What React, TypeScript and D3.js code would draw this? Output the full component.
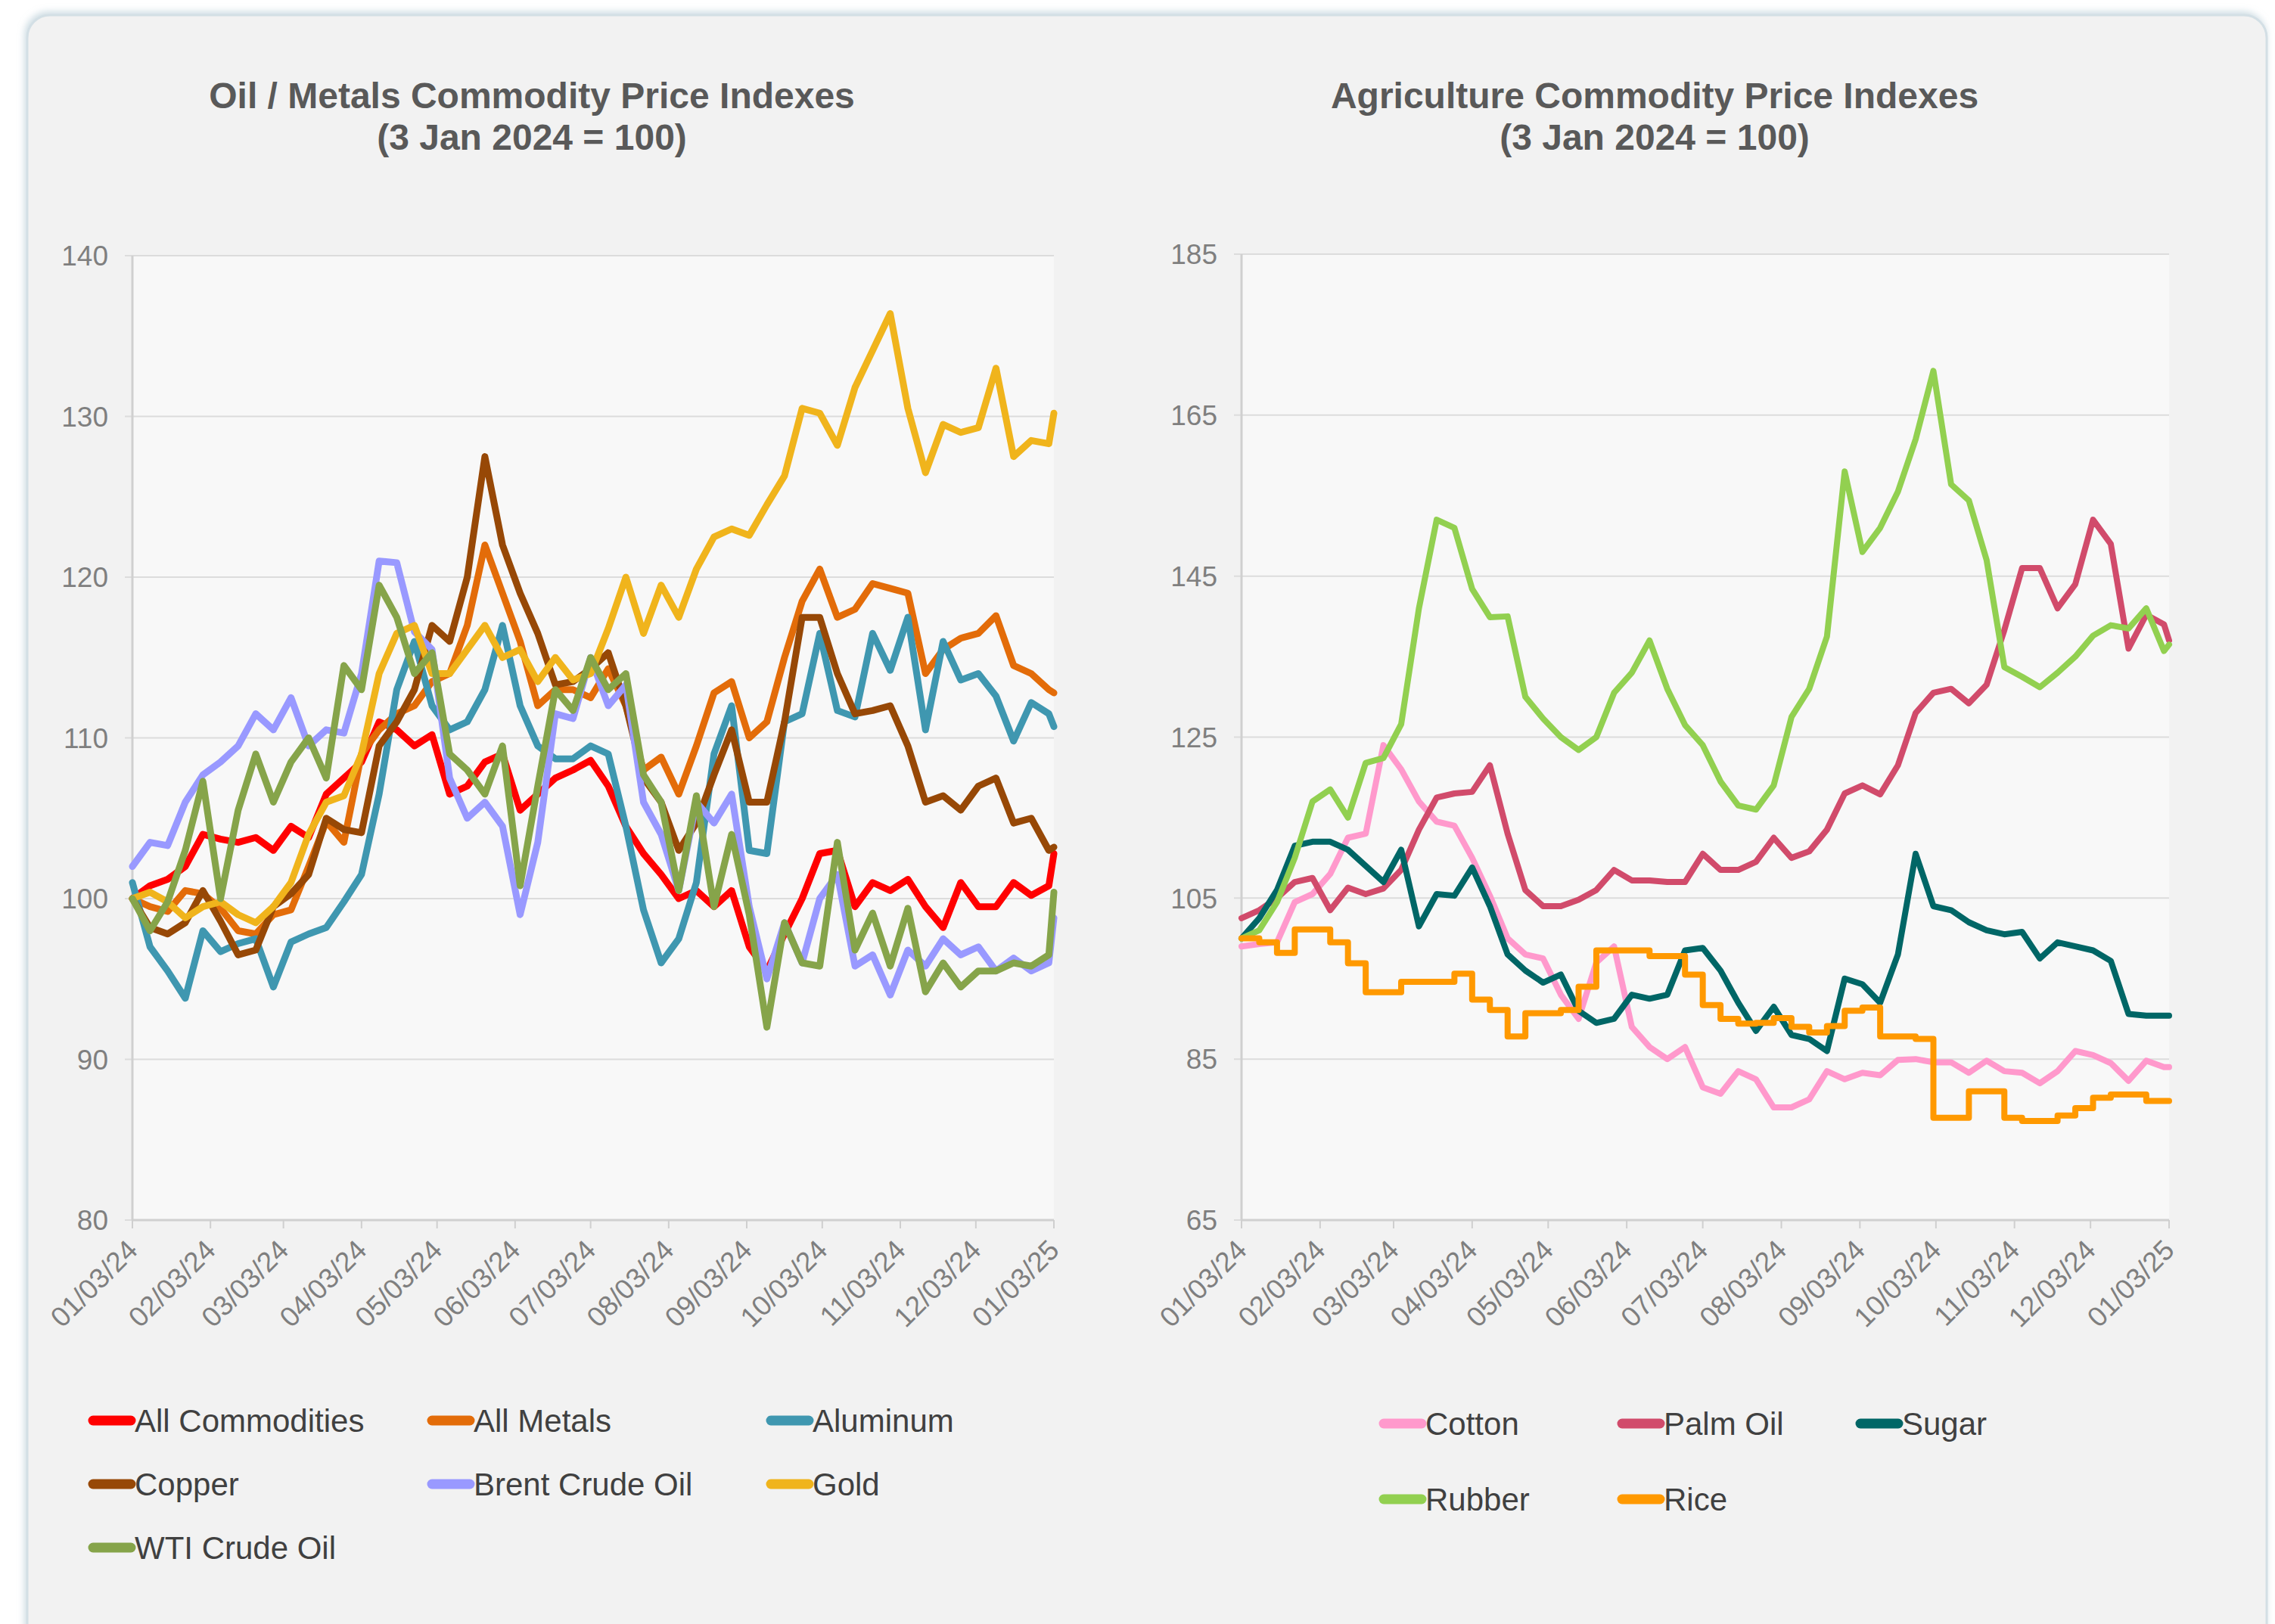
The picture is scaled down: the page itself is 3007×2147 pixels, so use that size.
import React from 'react';
import * as d3 from 'd3';

// weekly samples, Jan 3 2024 -> Jan 3 2025
const weekDates = [
  '2024-01-03', '2024-01-10', '2024-01-17', '2024-01-24', '2024-01-31',
  '2024-02-07', '2024-02-14', '2024-02-21', '2024-02-28',
  '2024-03-06', '2024-03-13', '2024-03-20', '2024-03-27',
  '2024-04-03', '2024-04-10', '2024-04-17', '2024-04-24',
  '2024-05-01', '2024-05-08', '2024-05-15', '2024-05-22', '2024-05-29',
  '2024-06-05', '2024-06-12', '2024-06-19', '2024-06-26',
  '2024-07-03', '2024-07-10', '2024-07-17', '2024-07-24', '2024-07-31',
  '2024-08-07', '2024-08-14', '2024-08-21', '2024-08-28',
  '2024-09-04', '2024-09-11', '2024-09-18', '2024-09-25',
  '2024-10-02', '2024-10-09', '2024-10-16', '2024-10-23', '2024-10-30',
  '2024-11-06', '2024-11-13', '2024-11-20', '2024-11-27',
  '2024-12-04', '2024-12-11', '2024-12-18', '2024-12-25',
  '2025-01-01', '2025-01-03',
];

const monthTicks = [
  '2024-01-03', '2024-02-03', '2024-03-03', '2024-04-03', '2024-05-03', '2024-06-03', '2024-07-03',
  '2024-08-03', '2024-09-03', '2024-10-03', '2024-11-03', '2024-12-03', '2025-01-03',
];

// Oil / metals
const allCommodities = [
  100, 100.8, 101.2, 102, 104, 103.7, 103.5, 103.8, 103, 104.5,
  103.8, 106.5, 107.5, 108.5, 111, 110.5, 109.5, 110.2, 106.5,
  107, 108.5, 109, 105.5, 106.5, 107.5, 108, 108.6, 107, 104.5,
  102.8, 101.5, 100, 100.5, 99.5, 100.5, 97,
  95.5, 97.8, 100, 102.8, 103, 99.5, 101, 100.5, 101.2, 99.5,
  98.2, 101, 99.5, 99.5, 101, 100.2, 100.8, 102.8,
];
const allMetals = [
  100, 99.5, 99.2, 100.5, 100.3, 99.4, 98, 97.8, 99, 99.3, 102, 104.8, 103.5, 109, 110.5, 111.5, 112, 113.5, 114,
  117, 122, 119, 116, 112, 113, 113, 112.5, 114.3, 112, 108, 108.8, 106.5, 109.5, 112.8, 113.5, 110,
  111, 115, 118.5, 120.5, 117.5, 118, 119.6, 119.3, 119, 114, 115.5, 116.2, 116.5, 117.6, 114.5, 114, 113,
  112.8,
];
const aluminum = [
  101, 97, 95.5, 93.8, 98, 96.7, 97.2, 97.5, 94.5, 97.3, 97.8, 98.2, 99.8, 101.5, 106.5, 113, 116, 112, 110.5,
  111, 113, 117, 112, 109.5, 108.7, 108.7, 109.5, 109, 104.5, 99.3, 96, 97.5, 101, 109, 112, 103,
  102.8, 111, 111.5, 116.5, 111.7, 111.3, 116.5, 114.2, 117.5, 110.5, 116, 113.6, 114, 112.6, 109.8, 112.2, 111.5,
  110.7,
];
const copper = [
  100, 98.2, 97.8, 98.5, 100.5, 98.6, 96.5, 96.8, 99.5, 100.3, 101.5, 105, 104.3, 104.1, 109.5, 111, 113, 117, 116,
  120, 127.5, 122, 119, 116.5, 113.3, 113.5, 114.3, 115.3, 112, 107.5, 106, 103, 104.7, 107.7, 110.5, 106,
  106, 111, 117.5, 117.5, 114, 111.5, 111.7, 112, 109.5, 106, 106.4, 105.5, 107, 107.5, 104.7, 105, 103,
  103.2,
];
const brentCrude = [
  102, 103.5, 103.3, 106, 107.7, 108.5, 109.5, 111.5, 110.5, 112.5, 109.5, 110.5, 110.3, 114, 121, 120.9, 116.6, 115.5, 107.5,
  105, 106, 104.5, 99, 103.5, 111.5, 111.2, 115, 112, 113.3, 106, 104, 100.5, 106, 104.7, 106.5, 99.5,
  95, 98.5, 96, 100, 101.5, 95.8, 96.5, 94, 96.8, 95.8, 97.5, 96.5, 97, 95.5, 96.3, 95.5, 96,
  98.8,
];
const gold = [
  100, 100.4, 99.8, 98.8, 99.5, 99.8, 99, 98.5, 99.5, 101, 104, 106, 106.4, 109, 114, 116.5, 117, 114, 114,
  115.5, 117, 115, 115.5, 113.5, 115, 113.6, 114, 116.8, 120, 116.5, 119.5, 117.5, 120.5, 122.5, 123, 122.6,
  124.5, 126.3, 130.5, 130.2, 128.2, 131.8, 134.1, 136.4, 130.5, 126.5, 129.5, 129, 129.3, 133, 127.5, 128.5, 128.3,
  130.2,
];
const wtiCrude = [
  100, 98, 99.8, 103, 107.3, 100, 105.5, 109, 106, 108.5, 110, 107.5, 114.5, 113, 119.5, 117.5, 114, 115.3, 109,
  108, 106.5, 109.5, 100.8, 107, 113, 111.7, 115, 113, 114, 107.7, 106, 100.5, 106.4, 99.5, 104, 99,
  92, 98.5, 96, 95.8, 103.5, 96.8, 99.1, 95.8, 99.4, 94.2, 96, 94.5, 95.5, 95.5, 96, 95.8, 96.5,
  100.4,
];

// Agriculture
const cotton = [
  99, 99.3, 99.5, 104.5, 105.5, 108, 112.5, 113, 124, 121, 117, 114.5, 114, 110, 105.3, 100, 98, 97.5, 93,
  90, 97, 99, 89, 86.5, 85, 86.5, 81.5, 80.7, 83.5, 82.5, 79, 79, 80, 83.5, 82.5, 83.3,
  83, 84.9, 85, 84.6, 84.6, 83.3, 84.8, 83.5, 83.3, 82, 83.5, 86, 85.5, 84.5, 82.3, 84.8, 84,
  84,
];
const palmOil = [
  102.5, 103.5, 105, 107, 107.5, 103.5, 106.3, 105.5, 106.2, 108.5, 113.5, 117.5, 118, 118.2, 121.5, 113, 106, 104, 104,
  104.8, 106, 108.5, 107.2, 107.2, 107, 107, 110.5, 108.5, 108.5, 109.5, 112.5, 110, 110.8, 113.5, 118, 119,
  117.9, 121.5, 128, 130.5, 131, 129.2, 131.5, 138.3, 146, 146, 141, 144, 152, 149, 136, 140.2, 139,
  137,
];
const sugar = [
  100, 102.5, 106, 111.5, 112, 112, 111, 109, 107, 111, 101.5, 105.5, 105.3, 108.8, 104, 98, 96, 94.5, 95.5,
  91, 89.5, 90, 93, 92.5, 93, 98.5, 98.8, 96, 92, 88.5, 91.5, 88, 87.5, 86, 95, 94.3,
  92, 98, 110.5, 104, 103.5, 102, 101, 100.5, 100.8, 97.5, 99.5, 99, 98.5, 97.2, 90.6, 90.4, 90.4,
  90.4,
];
const rubber = [
  100, 101, 104.5, 110, 117, 118.5, 115, 121.8, 122.4, 126.6, 141, 152, 151, 143.4, 139.9, 140, 130, 127.3, 125,
  123.4, 125, 130.5, 133, 137, 131, 126.5, 124, 119.5, 116.5, 116, 119, 127.5, 131, 137.5, 158, 148,
  151, 155.5, 162, 170.5, 156.4, 154.4, 147, 133.7, 132.5, 131.2, 133, 135, 137.6, 138.9, 138.5, 141, 135.7,
  136.5,
];
const rice = [
  100, 99.5, 98.2, 101.1, 101.1, 99.5, 96.9, 93.3, 93.3, 94.6, 94.6, 94.6, 95.6, 92.4, 91.1, 87.8, 90.7, 90.7, 91.1,
  94, 98.5, 98.5, 98.5, 97.8, 97.8, 95.5, 91.7, 90, 89.4, 89.5, 90.1, 89, 88.3, 89.1, 91, 91.4,
  87.8, 87.8, 87.5, 77.7, 77.7, 81, 81, 77.7, 77.3, 77.3, 78, 78.9, 80.2, 80.6, 80.6, 79.8, 79.8,
  79.8,
];

const leftYTicks = [80, 90, 100, 110, 120, 130, 140];
const rightYTicks = [65, 85, 105, 125, 145, 165, 185];

const parseDate = d3.utcParse('%Y-%m-%d');
const fmtDate = d3.utcFormat('%m/%d/%y');
const dates = weekDates.map(d => parseDate(d) as Date);
const ticks = monthTicks.map(d => parseDate(d) as Date);

const FONT = "'Liberation Sans', Arial, sans-serif";

type Series = { name: string; color: string; values: number[]; step?: boolean };

interface PanelProps {
  title: string[];
  titleX: number;
  x0: number; x1: number; y0: number; y1: number;
  yDomain: [number, number];
  yTicks: number[];
  series: Series[];
  lineWidth: number;
  legendCols: number[];
  legendRows: number[];
}

const Panel: React.FC<PanelProps> = (p) => {
  const x = d3.scaleUtc().domain([ticks[0], ticks[ticks.length - 1]]).range([p.x0, p.x1]);
  const y = d3.scaleLinear().domain(p.yDomain).range([p.y1, p.y0]);

  return (
    <g>
      {p.title.map((t, i) => (
        <text key={t} x={p.titleX} y={143 + i * 55} textAnchor="middle" fontFamily={FONT}
          fontWeight="bold" fontSize={48} fill="#595959">{t}</text>
      ))}
      <rect x={p.x0} y={p.y0} width={p.x1 - p.x0} height={p.y1 - p.y0} fill="#f8f8f8" />
      {p.yTicks.map(t => (
        <g key={t}>
          <line x1={p.x0 - 10} x2={p.x1} y1={y(t)} y2={y(t)} stroke="#dcdcdc" strokeWidth={2} />
          <text x={p.x0 - 32} y={y(t)} dy="0.36em" textAnchor="end" fontFamily={FONT}
            fontSize={37} fill="#7f7f7f">{t}</text>
        </g>
      ))}
      <line x1={p.x0} x2={p.x0} y1={p.y0} y2={p.y1} stroke="#d0d0d0" strokeWidth={3} />
      <line x1={p.x0} x2={p.x1} y1={p.y1} y2={p.y1} stroke="#d0d0d0" strokeWidth={3} />
      {ticks.map(t => (
        <g key={t.getTime()}>
          <line x1={x(t)} x2={x(t)} y1={p.y1} y2={p.y1 + 11} stroke="#cfcfcf" strokeWidth={2} />
          <text transform={`translate(${x(t) + 9},${p.y1 + 42}) rotate(-45)`} textAnchor="end"
            fontFamily={FONT} fontSize={37} fill="#7f7f7f">{fmtDate(t)}</text>
        </g>
      ))}
      {p.series.map(s => {
        const line = d3.line<number>()
          .x((_, i) => x(dates[i]))
          .y(v => y(v))
          .curve(s.step ? d3.curveStepAfter : d3.curveLinear);
        return (
          <path key={s.name} d={line(s.values) ?? ''} fill="none" stroke={s.color}
            strokeWidth={p.lineWidth} strokeLinejoin="round" strokeLinecap="round" />
        );
      })}
      {p.series.map((s, i) => {
        const lx = p.legendCols[i % 3];
        const ly = p.legendRows[Math.floor(i / 3)];
        return (
          <g key={'lg' + s.name}>
            <line x1={lx + 5} x2={lx + 55} y1={ly} y2={ly} stroke={s.color} strokeWidth={13} strokeLinecap="round" />
            <text x={lx + 60} y={ly + 15} fontFamily={FONT} fontSize={42} fill="#404040">{s.name}</text>
          </g>
        );
      })}
    </g>
  );
};

const leftSeries: Series[] = [
  { name: 'All Commodities', color: '#ff0000', values: allCommodities },
  { name: 'All Metals', color: '#e36c09', values: allMetals },
  { name: 'Aluminum', color: '#3f97b0', values: aluminum },
  { name: 'Copper', color: '#974806', values: copper },
  { name: 'Brent Crude Oil', color: '#9999ff', values: brentCrude },
  { name: 'Gold', color: '#f0b41c', values: gold },
  { name: 'WTI Crude Oil', color: '#86a44a', values: wtiCrude },
];

const rightSeries: Series[] = [
  { name: 'Cotton', color: '#ff99cc', values: cotton },
  { name: 'Palm Oil', color: '#d14b6b', values: palmOil },
  { name: 'Sugar', color: '#006666', values: sugar },
  { name: 'Rubber', color: '#92d050', values: rubber },
  { name: 'Rice', color: '#ff9900', values: rice, step: true },
];

export default function App() {
  return (
    <svg width={3007} height={2147} style={{ position: 'absolute', left: 0, top: 0, background: '#ffffff' }}>
      <defs>
        <filter id="cardShadow" x="-5%" y="-5%" width="110%" height="110%">
          <feDropShadow dx={-2} dy={-3} stdDeviation={5} floodColor="#a9c2cf" floodOpacity={0.6} />
        </filter>
      </defs>
      <rect x={36} y={20} width={2960} height={2200} rx={30} fill="#f2f2f2" stroke="#d3dfe5"
        strokeWidth={3} filter="url(#cardShadow)" />
      <Panel
        title={['Oil / Metals Commodity Price Indexes', '(3 Jan 2024 = 100)']}
        titleX={703}
        x0={175} x1={1393} y0={338} y1={1613}
        yDomain={[80, 140]} yTicks={leftYTicks}
        series={leftSeries} lineWidth={9}
        legendCols={[118, 566, 1014]} legendRows={[1878, 1962, 2046]}
      />
      <Panel
        title={['Agriculture Commodity Price Indexes', '(3 Jan 2024 = 100)']}
        titleX={2187}
        x0={1641} x1={2867} y0={336} y1={1613}
        yDomain={[65, 185]} yTicks={rightYTicks}
        series={rightSeries} lineWidth={8}
        legendCols={[1824, 2139, 2454]} legendRows={[1882, 1982]}
      />
    </svg>
  );
}
